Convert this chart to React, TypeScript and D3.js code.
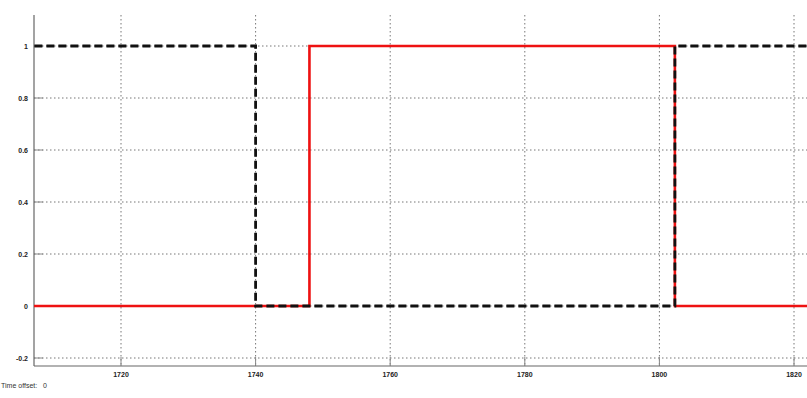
import * as d3 from "d3";
import {useEffect, useRef} from "react";

// step series: x of each change, and the level after it
const blackX = [1700, 1740, 1802.3, 1830];
const blackY = [1, 0, 1, 1];
const redX = [1700, 1748, 1802.3, 1830];
const redY = [0, 1, 0, 0];

const xTicks = [1720, 1740, 1760, 1780, 1800, 1820];
const yTicks = [-0.2, 0, 0.2, 0.4, 0.6, 0.8, 1];

function App() {
  const ref = useRef<SVGSVGElement>(null);

  useEffect(() => {
    const W = 807;
    const left = 34, top = 15, bottom = 366;
    const svg = d3.select(ref.current);
    svg.selectAll("*").remove();

    const x = d3.scaleLinear().domain([1720, 1820]).range([121, 794]);
    const y = d3.scaleLinear().domain([0, 1]).range([306, 46]);

    const g = svg.append("g");

    // grid
    g.selectAll("line.gx")
      .data(xTicks)
      .enter()
      .append("line")
      .attr("x1", d => x(d)).attr("x2", d => x(d))
      .attr("y1", top).attr("y2", bottom)
      .attr("stroke", "#777").attr("stroke-width", 1)
      .attr("stroke-dasharray", "1.5,2.5");
    g.selectAll("line.gy")
      .data(yTicks)
      .enter()
      .append("line")
      .attr("x1", left).attr("x2", W)
      .attr("y1", d => y(d)).attr("y2", d => y(d))
      .attr("stroke", "#777").attr("stroke-width", 1)
      .attr("stroke-dasharray", "1.5,2.5");

    // tick marks (inside)
    g.selectAll("line.ty")
      .data(yTicks)
      .enter()
      .append("line")
      .attr("x1", left).attr("x2", left + 9)
      .attr("y1", d => y(d)).attr("y2", d => y(d))
      .attr("stroke", "#888").attr("stroke-width", 1);
    g.selectAll("line.tx")
      .data(xTicks)
      .enter()
      .append("line")
      .attr("x1", d => x(d)).attr("x2", d => x(d))
      .attr("y1", bottom).attr("y2", bottom - 9)
      .attr("stroke", "#888").attr("stroke-width", 1);

    // axes lines
    g.append("line")
      .attr("x1", left).attr("x2", left).attr("y1", top).attr("y2", bottom)
      .attr("stroke", "#666").attr("stroke-width", 1.2);
    g.append("line")
      .attr("x1", left).attr("x2", W).attr("y1", bottom).attr("y2", bottom)
      .attr("stroke", "#666").attr("stroke-width", 1.2);

    // labels
    g.selectAll("text.ly")
      .data(yTicks)
      .enter()
      .append("text")
      .attr("x", left - 6)
      .attr("y", d => y(d) + 2.5)
      .attr("text-anchor", "end")
      .style("font", "bold 7px 'Liberation Sans', Arial, sans-serif")
      .attr("fill", "#222")
      .text(d => String(d));
    g.selectAll("text.lx")
      .data(xTicks)
      .enter()
      .append("text")
      .attr("x", d => x(d))
      .attr("y", bottom + 11)
      .attr("text-anchor", "middle")
      .style("font", "bold 7px 'Liberation Sans', Arial, sans-serif")
      .attr("fill", "#222")
      .text(d => d);

    svg.append("text")
      .attr("x", 1)
      .attr("y", 388)
      .style("font", "7px 'Liberation Sans', Arial, sans-serif")
      .attr("fill", "#333")
      .attr("xml:space", "preserve")
      .text("Time offset:   0");

    // series, clipped to the plot area
    svg.append("clipPath").attr("id", "plot")
      .append("rect")
      .attr("x", left).attr("y", top)
      .attr("width", W - left).attr("height", bottom - top);

    const redPts: [number, number][] = redX.map((v, i) => [x(v), y(redY[i])]);
    const blackPts: [number, number][] = blackX.map((v, i) => [x(v), y(blackY[i])]);
    const step = d3.line().curve(d3.curveStepAfter);

    const plot = svg.append("g").attr("clip-path", "url(#plot)");
    plot.append("path")
      .attr("d", step(redPts))
      .attr("fill", "none")
      .attr("stroke", "#ee1111")
      .attr("stroke-width", 2.6);
    plot.append("path")
      .attr("d", step(blackPts))
      .attr("fill", "none")
      .attr("stroke", "#111")
      .attr("stroke-width", 2.8)
      .attr("stroke-dasharray", "8,4");
  });

  return (
    <svg ref={ref} width={807} height={398}
      style={{position: "absolute", left: 0, top: 0, background: "#fff"}} />
  );
}

export default App;
